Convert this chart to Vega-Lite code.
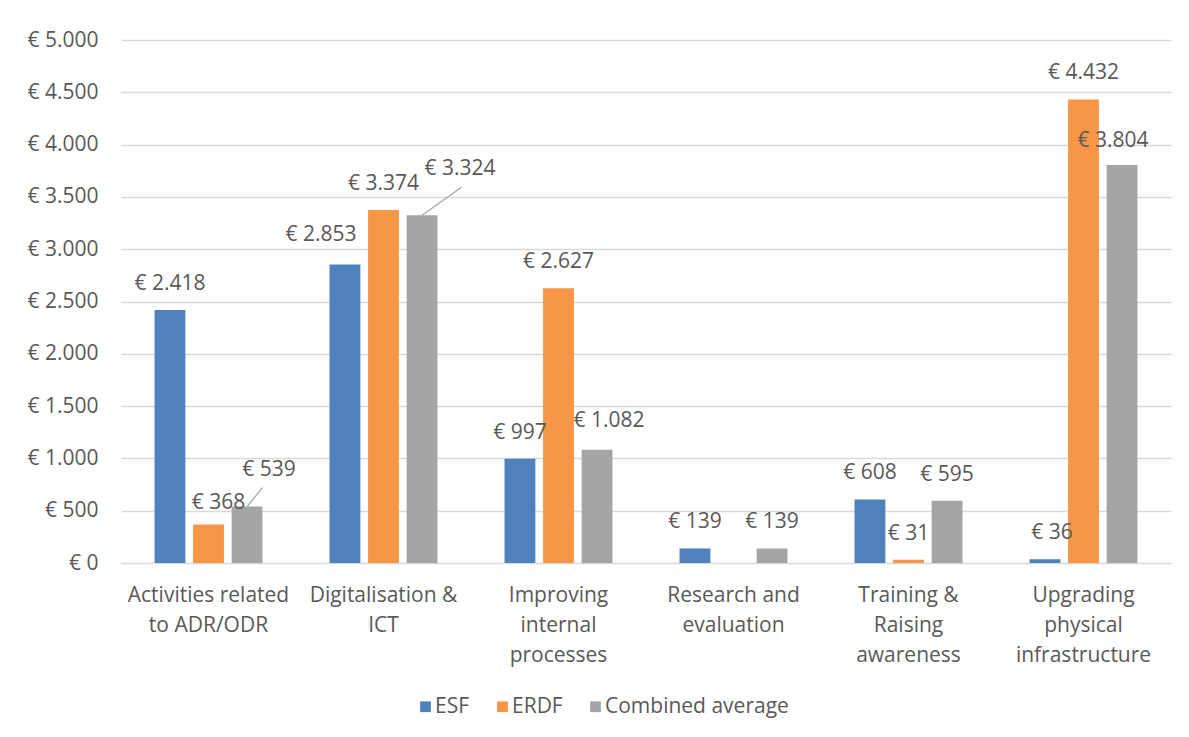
{
  "$schema": "https://vega.github.io/schema/vega-lite/v6.json",
  "width": 1050,
  "height": 523,
  "autosize": {"type": "none"},
  "padding": {"left": 121, "top": 40, "right": 18, "bottom": 174},
  "background": "white",
  "config": {
    "locale": {"number": {"decimal": ",", "thousands": ".", "grouping": [3], "currency": ["€ ", ""]}},
    "view": {"stroke": null},
    "font": "Open Sans",
    "text": {"font": "Open Sans"}
  },
  "data": {
    "values": [
      {"cat": "Activities related|to ADR/ODR", "series": "ESF", "value": 2418},
      {"cat": "Activities related|to ADR/ODR", "series": "ERDF", "value": 368},
      {"cat": "Activities related|to ADR/ODR", "series": "Combined average", "value": 539},
      {"cat": "Digitalisation &|ICT", "series": "ESF", "value": 2853},
      {"cat": "Digitalisation &|ICT", "series": "ERDF", "value": 3374},
      {"cat": "Digitalisation &|ICT", "series": "Combined average", "value": 3324},
      {"cat": "Improving|internal|processes", "series": "ESF", "value": 997},
      {"cat": "Improving|internal|processes", "series": "ERDF", "value": 2627},
      {"cat": "Improving|internal|processes", "series": "Combined average", "value": 1082},
      {"cat": "Research and|evaluation", "series": "ESF", "value": 139},
      {"cat": "Research and|evaluation", "series": "Combined average", "value": 139},
      {"cat": "Training &|Raising|awareness", "series": "ESF", "value": 608},
      {"cat": "Training &|Raising|awareness", "series": "ERDF", "value": 31},
      {"cat": "Training &|Raising|awareness", "series": "Combined average", "value": 595},
      {"cat": "Upgrading|physical|infrastructure", "series": "ESF", "value": 36},
      {"cat": "Upgrading|physical|infrastructure", "series": "ERDF", "value": 4432},
      {"cat": "Upgrading|physical|infrastructure", "series": "Combined average", "value": 3804}
    ]
  },
  "encoding": {
    "x": {
      "field": "cat", "type": "nominal", "sort": null,
      "scale": {"paddingInner": 0, "paddingOuter": 0},
      "axis": {
        "title": null, "labelAngle": 0, "domain": false, "ticks": false,
        "labelExpr": "split(datum.label, '|')",
        "labelFont": "Open Sans", "labelFontSize": 21, "labelColor": "#595959",
        "labelLineHeight": 30, "labelPadding": 21, "labelBaseline": "top"
      }
    },
    "xOffset": {
      "field": "series", "type": "nominal",
      "scale": {"domain": ["ESF", "ERDF", "Combined average"], "paddingInner": 0.2, "paddingOuter": 0.87}
    },
    "y": {
      "field": "value", "type": "quantitative",
      "scale": {"domain": [0, 5000], "nice": false},
      "axis": {
        "title": null, "values": [0, 500, 1000, 1500, 2000, 2500, 3000, 3500, 4000, 4500, 5000],
        "format": "$,.0f", "domain": false, "ticks": false,
        "labelFont": "Open Sans", "labelFontSize": 21, "labelColor": "#595959", "labelPadding": 23,
        "gridColor": "#D9D9D9", "gridWidth": 1.3
      }
    }
  },
  "layer": [
    {
      "mark": {"type": "bar"},
      "encoding": {
        "color": {
          "field": "series", "type": "nominal",
          "scale": {"domain": ["ESF", "ERDF", "Combined average"], "range": ["#4F81BD", "#F79646", "#A5A5A5"]},
          "legend": {
            "title": null, "orient": "none", "direction": "horizontal",
            "legendX": 294, "legendY": 656,
            "symbolType": "square", "symbolSize": 115, "symbolStrokeWidth": 0,
            "labelFont": "Open Sans", "labelFontSize": 21, "labelColor": "#595959",
            "labelOffset": -1, "columnPadding": 22, "labelLimit": 0
          }
        }
      }
    },
    {
      "transform": [{"filter": "datum.value == 539"}],
      "mark": {"type": "rule", "color": "#A6A6A6", "strokeWidth": 1.3, "x2Offset": 54, "y2Offset": -19},
      "encoding": {"x2": {"field": "cat"}, "y2": {"field": "value"}}
    },
    {
      "transform": [{"filter": "datum.value == 3324"}],
      "mark": {"type": "rule", "color": "#A6A6A6", "strokeWidth": 1.3, "x2Offset": 78, "y2Offset": -28},
      "encoding": {"x2": {"field": "cat"}, "y2": {"field": "value"}}
    },
    {
      "transform": [{"filter": "datum.value != 368 && datum.value != 539 && datum.value != 2853 && datum.value != 3324 && datum.value != 1082 && datum.value != 36 && datum.value != 3804"}],
      "mark": {"type": "text", "baseline": "middle", "dy": -26, "fontSize": 21, "color": "#595959"},
      "encoding": {"text": {"field": "value", "type": "quantitative", "format": "$,.0f"}}
    },
    {
      "transform": [{"filter": "datum.value == 368"}],
      "mark": {"type": "text", "baseline": "middle", "dy": -22, "dx": 10, "fontSize": 21, "color": "#595959"},
      "encoding": {"text": {"field": "value", "type": "quantitative", "format": "$,.0f"}}
    },
    {
      "transform": [{"filter": "datum.value == 1082"}],
      "mark": {"type": "text", "baseline": "middle", "dy": -29, "dx": 12, "fontSize": 21, "color": "#595959"},
      "encoding": {"text": {"field": "value", "type": "quantitative", "format": "$,.0f"}}
    },
    {
      "transform": [{"filter": "datum.value == 36"}],
      "mark": {"type": "text", "baseline": "middle", "dy": -26, "dx": 7, "fontSize": 21, "color": "#595959"},
      "encoding": {"text": {"field": "value", "type": "quantitative", "format": "$,.0f"}}
    },
    {
      "transform": [{"filter": "datum.value == 3804"}],
      "mark": {"type": "text", "baseline": "middle", "dy": -24, "dx": -9, "fontSize": 21, "color": "#595959"},
      "encoding": {"text": {"field": "value", "type": "quantitative", "format": "$,.0f"}}
    },
    {
      "transform": [{"filter": "datum.value == 539"}],
      "mark": {"type": "text", "baseline": "middle", "dy": -37, "dx": 22, "fontSize": 21, "color": "#595959"},
      "encoding": {"text": {"field": "value", "type": "quantitative", "format": "$,.0f"}}
    },
    {
      "transform": [{"filter": "datum.value == 3324"}],
      "mark": {"type": "text", "baseline": "middle", "dy": -46, "dx": 38, "fontSize": 21, "color": "#595959"},
      "encoding": {"text": {"field": "value", "type": "quantitative", "format": "$,.0f"}}
    },
    {
      "transform": [{"filter": "datum.value == 2853"}],
      "mark": {"type": "text", "baseline": "middle", "dy": -30, "dx": -24, "fontSize": 21, "color": "#595959"},
      "encoding": {"text": {"field": "value", "type": "quantitative", "format": "$,.0f"}}
    }
  ]
}
